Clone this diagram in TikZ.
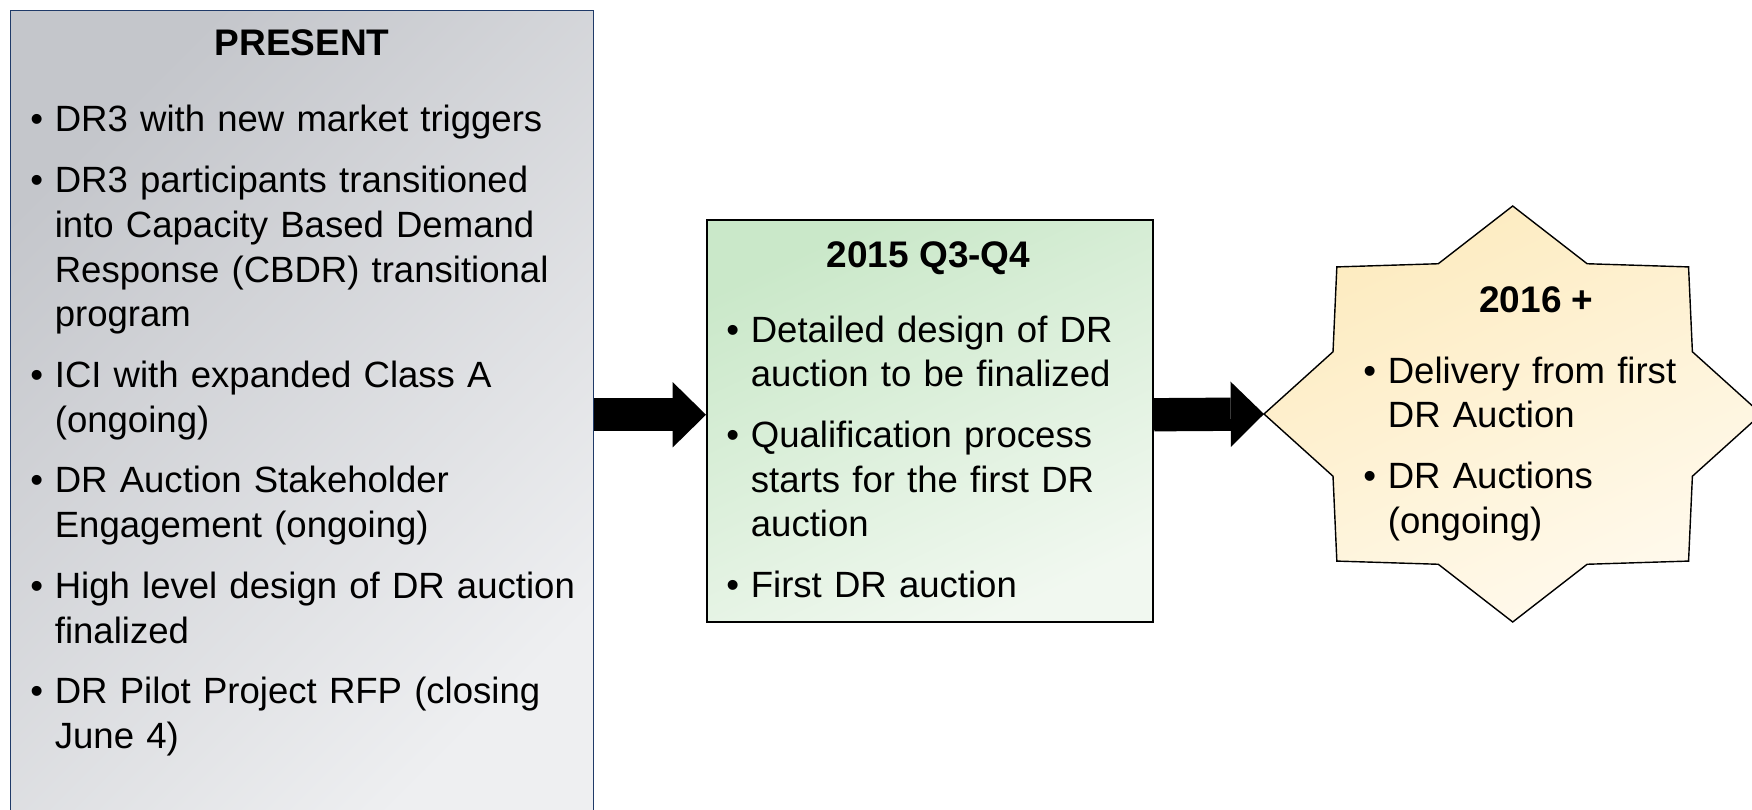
\documentclass[tikz,border=0pt]{standalone}
\usepackage{fontspec}
\setmainfont{Liberation Sans}
\usetikzlibrary{arrows.meta,calc}

\definecolor{presentnavy}{HTML}{1F3A68}
\definecolor{presenttop}{HTML}{C4C6CB}
\definecolor{presentbot}{HTML}{EEEFF1}
\definecolor{qtop}{HTML}{CAE8C9}
\definecolor{qbot}{HTML}{F1F8F0}
\definecolor{futuretop}{HTML}{FDEBBF}
\definecolor{futurebot}{HTML}{FFFAEE}

\newcommand{\bitem}[1]{\hangindent=0.49cm\hangafter=1\noindent\makebox[0.49cm][l]{\textbullet}#1}
\newcommand{\itemgap}{\par\vspace{0.32cm}}

\begin{document}
\begin{tikzpicture}[
    boxtitle/.style={font=\bfseries\fontsize{21.06}{25.44}\selectfont, anchor=base, inner sep=0pt},
    boxlist/.style={font=\fontsize{20.8}{25.44}\selectfont, anchor=base west, inner sep=0pt, text width=#1, align=left},
    presentbox/.style={draw=presentnavy, line width=0.85pt, top color=presenttop, bottom color=presentbot, shading angle=45, anchor=north west, inner sep=0pt},
    qbox/.style={draw=black, line width=1.1pt, top color=qtop, bottom color=qbot, shading angle=25, anchor=north west, inner sep=0pt},
    futurestar/.style={draw=black, line width=0.8pt, top color=futuretop, bottom color=futurebot, shading angle=25},
    blockarrow/.style={line width=0.666cm, -{Triangle[length=0.666cm, width=1.306cm, line width=0pt]}}
]
    \useasboundingbox (0,0) rectangle (35.04,16.18);
    \clip (0,0) rectangle (35.04,16.18);

    % present
    \node[presentbox, minimum width=11.65cm, minimum height=16.16cm] (present) at (0.2,15.98) {};
    \node[boxtitle] (presenttitle) at (6.04,15.06) {PRESENT};
    \node[boxlist=11.2cm] (presentlist) at (0.6,13.54) {%
        \bitem{DR3 with new market triggers}
        \itemgap
        \bitem{DR3 participants transitioned\newline into Capacity Based Demand\newline Response (CBDR) transitional\newline program}
        \itemgap
        \bitem{ICI with expanded Class A\newline (ongoing)}
        \itemgap
        \bitem{DR Auction Stakeholder\newline Engagement (ongoing)}
        \itemgap
        \bitem{High level design of DR auction\newline finalized}
        \itemgap
        \bitem{DR Pilot Project RFP (closing\newline June 4)}\par};

    % 2015
    \node[qbox, minimum width=8.924cm, minimum height=8.028cm] (q34) at (14.12,11.794) {};
    \node[boxtitle] (q34title) at (18.57,10.82) {2015 Q3-Q4};
    \node[boxlist=8.2cm] (q34list) at (14.52,9.34) {%
        \bitem{Detailed design of DR\newline auction to be finalized}
        \itemgap
        \bitem{Qualification process\newline starts for the first DR\newline auction}
        \itemgap
        \bitem{First DR auction}\par};

    % 2016
    \coordinate (future) at (30.254,7.9);
    \coordinate (futuretip) at ($(future)+(-4.974,0)$);
    \draw[futurestar, shift={(future)}] (0:4.974 and 4.16)
        \foreach \a in {45,90,...,360} { -- ({\a-22.5}:3.89 and 3.253) -- (\a:4.974 and 4.16) } -- cycle;
    \node[boxtitle] (futuretitle) at (30.73,9.94) {2016 +};
    \node[boxlist=7cm] (futurelist) at (27.26,8.52) {%
        \bitem{Delivery from first\newline DR Auction}
        \itemgap
        \bitem{DR Auctions\newline (ongoing)}\par};

    \draw[blockarrow] (present.east) -- (q34.west |- present.east);
    \draw[blockarrow] (q34.east |- present.east) -- (futuretip);
\end{tikzpicture}
\end{document}
